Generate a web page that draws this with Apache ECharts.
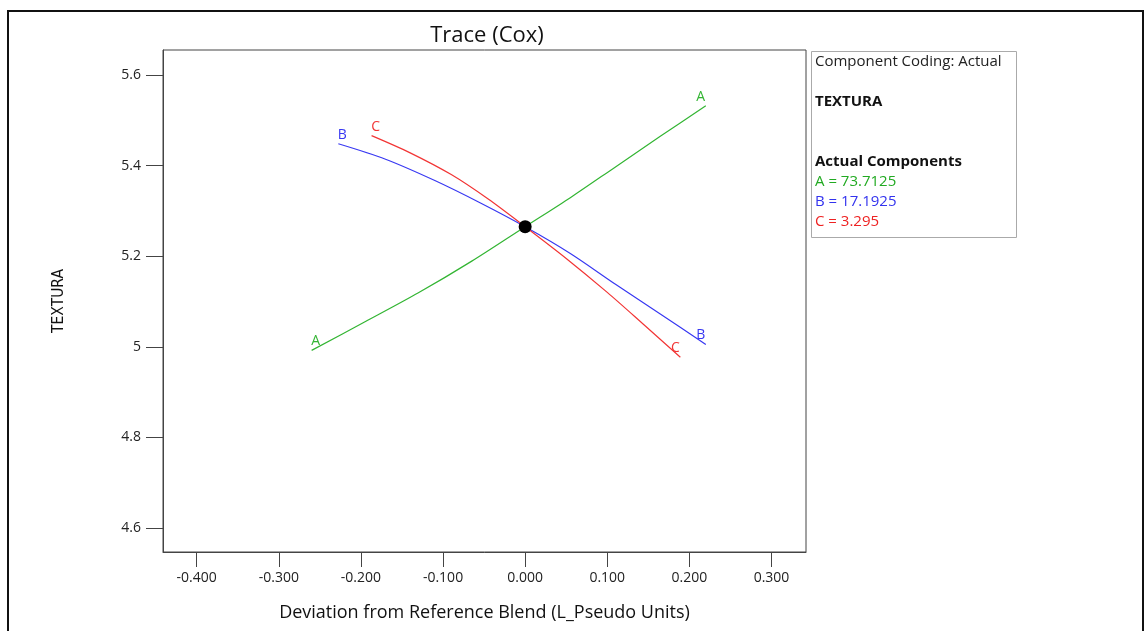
<!DOCTYPE html>
<html>
<head>
<meta charset="utf-8">
<script src="https://cdn.jsdelivr.net/npm/echarts@6/dist/echarts.min.js"></script>
<style>
html,body{margin:0;padding:0;background:#fff;}
#chart{width:1144px;height:631px;}
</style>
</head>
<body>
<div id="chart"></div>
<script>
// ---- Data ----
var xTicks = [-0.4, -0.3, -0.2, -0.1, 0, 0.1, 0.2, 0.3];
var yTicks = [4.6, 4.8, 5.0, 5.2, 5.4, 5.6];

var traceA_x = [-0.260, -0.195, -0.130, -0.065, 0.000, 0.055, 0.110, 0.165, 0.220];
var traceA_y = [4.992, 5.055, 5.119, 5.189, 5.265, 5.329, 5.397, 5.465, 5.532];

var traceB_x = [-0.2275, -0.170, -0.110, -0.055, 0.000, 0.055, 0.110, 0.165, 0.220];
var traceB_y = [5.448, 5.414, 5.367, 5.318, 5.265, 5.206, 5.138, 5.072, 5.005];

var traceC_x = [-0.187, -0.140, -0.090, -0.045, 0.000, 0.050, 0.100, 0.145, 0.189];
var traceC_y = [5.466, 5.428, 5.380, 5.326, 5.265, 5.195, 5.120, 5.048, 4.977];

var refPoint = [0.000, 5.265];

var legendTitle = 'Component Coding: Actual';
var responseName = 'TEXTURA';
var componentsHeader = 'Actual Components';
var componentLines = ['A = 73.7125', 'B = 17.1925', 'C = 3.295'];

var colA = '#33b533', colB = '#3838f2', colC = '#f23535';
var txtA = '#22aa22', txtB = '#3333ee', txtC = '#ee2222';
var FONT = '"Open Sans", "Noto Sans", sans-serif';

function buildSeries(name, xs, ys, color) {
  var last = xs.length - 1;
  var data = xs.map(function (x, i) {
    var item = { value: [x, ys[i]] };
    if (i === 0 || i === last) {
      item.label = {
        show: true, formatter: name,
        position: i === 0 ? [4, -9] : [-5, -9],
        align: 'center', verticalAlign: 'middle',
        color: color, fontSize: 14, fontFamily: FONT
      };
    }
    return item;
  });
  return {
    type: 'line', name: name, data: data, smooth: 0.3,
    showSymbol: true, symbol: 'circle', symbolSize: 0.1,
    label: { show: false },
    labelLayout: { hideOverlap: false },
    lineStyle: { color: color, width: 1.2 },
    itemStyle: { color: color },
    emphasis: { disabled: true },
    z: 3
  };
}

var chart = echarts.init(document.getElementById('chart'));
var legendText = function (txt, y, color, bold) {
  return { type: 'text', x: 815, y: y, silent: true,
    style: { text: txt, fontFamily: FONT, fontSize: 15, fontWeight: bold ? 'bold' : 'normal',
      fill: color, verticalAlign: 'middle', align: 'left' } };
};
chart.setOption({
  animation: false,
  backgroundColor: '#fff',
  title: {
    text: 'Trace (Cox)', left: 482, top: 20, textAlign: 'center',
    textStyle: { fontFamily: FONT, fontSize: 22, fontWeight: 'normal', color: '#111' }
  },
  grid: {
    left: 163, top: 50, width: 643, height: 502,
    show: true, borderColor: '#444', borderWidth: 1, backgroundColor: 'transparent'
  },
  xAxis: {
    type: 'value', min: -0.441, max: 0.342,
    name: 'Deviation from Reference Blend (L_Pseudo Units)',
    nameLocation: 'middle', nameGap: 52,
    nameTextStyle: { fontFamily: FONT, fontSize: 18, color: '#111' },
    axisLine: { show: true, onZero: false, lineStyle: { color: '#444' } },
    axisTick: { show: true, inside: false, length: 15, customValues: xTicks, lineStyle: { color: '#444' } },
    axisLabel: { customValues: xTicks, margin: 19, fontFamily: FONT, fontSize: 14, color: '#222',
      formatter: function (v) { return v.toFixed(3); } },
    splitLine: { show: false }
  },
  yAxis: {
    type: 'value', min: 4.547, max: 5.655,
    name: responseName, nameLocation: 'middle', nameRotate: 90, nameGap: 96,
    nameTextStyle: { fontFamily: '"DejaVu Sans Condensed", "Liberation Sans Narrow", sans-serif', fontSize: 15.5, color: '#111' },
    axisLine: { show: true, onZero: false, lineStyle: { color: '#444' } },
    axisTick: { show: true, inside: false, length: 17, customValues: yTicks, lineStyle: { color: '#444' } },
    axisLabel: { customValues: yTicks, margin: 22, fontFamily: FONT, fontSize: 14, color: '#222',
      formatter: function (v) { return String(Math.round(v * 10) / 10); } },
    splitLine: { show: false }
  },
  series: [
    buildSeries('A', traceA_x, traceA_y, colA),
    buildSeries('B', traceB_x, traceB_y, colB),
    buildSeries('C', traceC_x, traceC_y, colC),
    {
      type: 'scatter', data: [refPoint], symbol: 'circle', symbolSize: 13,
      itemStyle: { color: '#000', opacity: 1 }, z: 5, emphasis: { disabled: true }
    }
  ],
  graphic: [
    { type: 'rect', shape: { x: 8, y: 11, width: 1135, height: 640 }, silent: true,
      style: { fill: 'none', stroke: '#111', lineWidth: 2 } },
    { type: 'rect', shape: { x: 811.5, y: 51.5, width: 205, height: 186 }, silent: true,
      style: { fill: '#fff', stroke: '#aaa', lineWidth: 1 } },
    legendText(legendTitle, 62, '#222', false),
    legendText(responseName, 102, '#111', true),
    legendText(componentsHeader, 162, '#111', true),
    legendText(componentLines[0], 182, txtA, false),
    legendText(componentLines[1], 202, txtB, false),
    legendText(componentLines[2], 222, txtC, false)
  ]
});
</script>
</body>
</html>
